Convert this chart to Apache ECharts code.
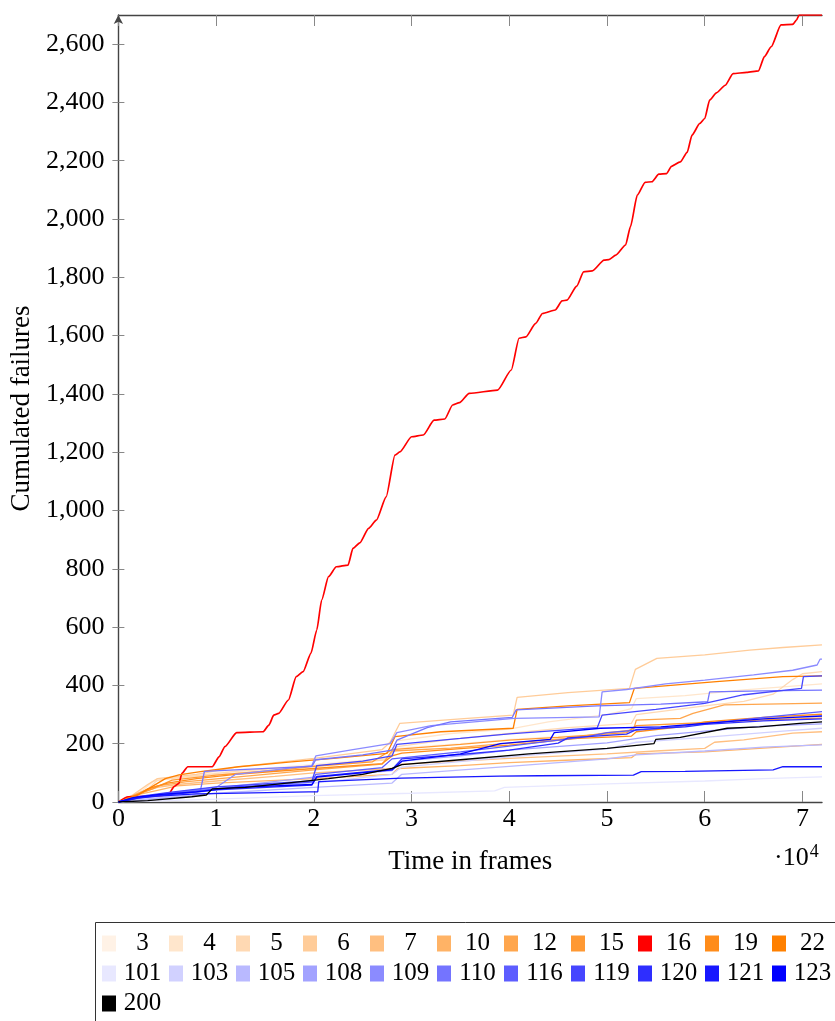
<!DOCTYPE html>
<html>
<head>
<meta charset="utf-8">
<script src="https://cdn.jsdelivr.net/npm/echarts@6/dist/echarts.min.js"></script>
<style>
html, body { margin: 0; padding: 0; background: #ffffff; }
#chart { width: 835px; height: 1021px; }
</style>
</head>
<body>
<div id="chart"></div>
<script>
// Tick values
const xTicks = [0, 10000, 20000, 30000, 40000, 50000, 60000, 70000];
const yTicks = [0, 200, 400, 600, 800, 1000, 1200, 1400, 1600, 1800, 2000, 2200, 2400, 2600];
const xMax = 72000;
const yMax = 2700;

// Cumulated failures per run: [frame, failures]
const fail3 = [[0,0],[1500,25],[3000,55],[4000,80],[8000,95],[15000,115],[20000,130],[27500,150],[28500,185],[35000,200],[40000,215],[45000,225],[52000,235],[53000,260],[60000,275],[66000,285],[72000,292]];
const fail4 = [[0,0],[2500,40],[3500,70],[5000,80],[10000,95],[16000,110],[20000,125],[27500,150],[28500,210],[34000,235],[40000,250],[44000,275],[50000,300],[52500,320],[53000,355],[58000,365],[64000,385],[68000,395],[72000,405]];
const fail5 = [[0,0],[3000,45],[4000,75],[8000,90],[12000,105],[20000,125],[27500,145],[28500,190],[34000,215],[40000,235],[46000,255],[52500,270],[53000,300],[60000,330],[64000,345],[67000,370],[69000,420],[70000,440],[72000,447]];
const fail6 = [[0,0],[1500,25],[3000,60],[4000,80],[8000,95],[12000,120],[20000,150],[27000,180],[27800,205],[28800,270],[35000,285],[40400,298],[40800,359],[46000,375],[52300,390],[52900,455],[55100,493],[60000,505],[64600,521],[68000,530],[72000,539]];
const fail7 = [[0,0],[2500,35],[4000,50],[6000,60],[10000,72],[16000,88],[20000,100],[28000,115],[29000,130],[40000,150],[50000,165],[55000,175],[60000,184],[61000,205],[64000,213],[69000,236],[72000,241]];
const fail10 = [[0,0],[2000,25],[4000,40],[6000,55],[10000,65],[20000,80],[28000,95],[28600,115],[35000,125],[40000,135],[47000,145],[52500,152],[53000,165],[60000,172],[66000,185],[72000,198]];
const fail12 = [[0,0],[2000,30],[4000,55],[7000,70],[12000,85],[20000,110],[27000,130],[28000,175],[34000,185],[39800,201],[45900,218],[49700,236],[52700,247],[53000,281],[57500,287],[58800,304],[62000,333],[72000,339]];
const fail15 = [[0,0],[1500,20],[3500,45],[5500,75],[10000,92],[16000,108],[20000,122],[26000,138],[28000,180],[35000,198],[40000,212],[45000,222],[52000,238],[53000,262],[60000,272],[66000,282],[72000,288]];
const fail16 = [[0,0],[1000,18],[4500,20],[5200,30],[5700,53],[6200,64],[6500,98],[7100,121],[9600,121],[10300,155],[10900,190],[12100,238],[14800,241],[15400,264],[15900,298],[16400,304],[17400,350],[18200,430],[18900,447],[19700,510],[20300,590],[20800,693],[21500,773],[22300,807],[23500,813],[24000,870],[24700,889],[25600,939],[26400,967],[27400,1047],[28300,1190],[28800,1201],[30000,1253],[31200,1259],[32300,1310],[33400,1314],[34200,1362],[34900,1370],[35900,1402],[38800,1413],[40200,1482],[41000,1591],[41700,1596],[42700,1642],[43400,1676],[44700,1688],[45400,1719],[45900,1722],[46900,1770],[47600,1819],[48500,1822],[49700,1859],[50200,1861],[50900,1876],[51900,1911],[52400,1974],[53100,2082],[53900,2126],[54600,2128],[55300,2154],[56100,2156],[56600,2181],[57500,2196],[58200,2229],[58700,2288],[59500,2328],[60000,2345],[60500,2408],[61200,2433],[62100,2459],[62900,2499],[64300,2503],[65500,2508],[66100,2557],[66800,2591],[67800,2666],[69000,2668],[69400,2683],[69650,2700],[72000,2700]];
const fail19 = [[0,0],[1800,20],[3000,45],[5000,65],[8000,80],[12000,95],[20000,115],[27000,132],[28000,158],[29000,168],[35000,183],[40000,195],[47000,218],[52500,226],[53000,241],[57500,258],[60000,275],[66000,290],[72000,301]];
const fail22 = [[0,0],[2000,25],[2800,40],[4800,80],[6200,93],[8400,104],[12300,121],[17700,138],[22000,150],[27500,167],[28300,224],[33000,241],[40400,253],[40800,318],[46000,330],[52300,341],[52800,390],[61200,413],[68000,430],[72000,433]];
const fail101 = [[0,0],[10000,10],[20000,22],[30000,30],[38500,38],[39500,50],[50000,62],[60000,72],[66000,80],[72000,86]];
const fail103 = [[0,0],[3000,12],[8000,30],[10000,45],[20000,65],[28000,95],[29000,120],[40000,155],[50000,182],[53000,205],[60000,222],[68000,243],[72000,253]];
const fail105 = [[0,0],[4000,12],[10000,30],[20000,50],[28000,65],[29000,95],[40000,122],[50000,148],[53000,162],[60000,175],[66000,188],[72000,196]];
const fail108 = [[0,0],[3000,18],[8000,35],[12000,55],[20000,85],[28000,108],[29000,140],[35000,158],[40000,178],[50000,203],[55000,228],[60000,243],[66000,260],[72000,268]];
const fail109 = [[0,0],[2000,15],[5000,30],[10000,50],[12000,95],[19800,125],[20200,158],[24000,180],[27800,200],[28500,238],[32000,262],[40500,287],[49200,292],[49500,378],[52000,386],[56000,405],[60000,418],[65000,436],[69000,452],[71500,470],[71800,490],[72000,490]];
const fail110 = [[0,0],[2000,14],[5000,25],[8400,40],[8800,105],[13000,112],[19800,122],[20200,145],[25000,162],[28000,178],[28500,212],[31600,255],[34000,275],[40300,290],[40700,316],[49000,330],[55500,336],[60300,344],[60500,378],[66000,381],[72000,384]];
const fail116 = [[0,0],[2500,18],[6000,32],[12000,52],[19800,68],[20200,95],[27000,118],[28000,148],[35000,172],[40000,192],[45000,212],[48000,224],[50000,238],[55000,252],[60000,268],[66000,290],[72000,310]];
const fail119 = [[0,0],[2000,18],[5000,32],[10000,52],[19800,72],[20300,125],[25000,140],[28000,158],[28500,198],[35000,218],[40000,234],[49000,255],[49500,298],[55000,318],[60000,338],[64000,368],[69900,390],[70100,430],[72000,433]];
const fail120 = [[0,0],[2000,16],[6000,28],[10000,42],[19800,58],[20300,88],[28000,112],[29000,148],[35000,163],[40000,178],[45000,202],[46000,220],[52000,233],[53000,248],[58000,258],[60000,266],[66000,278],[72000,285]];
const fail121 = [[0,0],[2000,13],[4000,20],[8000,28],[19500,35],[20400,35],[20500,70],[29000,82],[39000,89],[43000,90],[52700,92],[53500,104],[58000,105],[67000,110],[68000,121],[72000,121]];
const fail123 = [[0,0],[1500,15],[4000,25],[8000,35],[12000,50],[19800,60],[20300,85],[28000,110],[29000,140],[35000,165],[39100,200],[44200,215],[44600,238],[49300,253],[55500,258],[60000,270],[66000,285],[69000,290],[72000,295]];
const fail200 = [[0,0],[3000,5],[7500,18],[9000,24],[9600,45],[13000,50],[17000,64],[21500,80],[25000,95],[28000,115],[29000,128],[35000,145],[42000,165],[50000,184],[54800,200],[55000,215],[57500,222],[62300,253],[65600,258],[69700,270],[72000,275]];

// Run names, in drawing order, with their line colours
const runNames = ['3','4','5','6','7','10','12','15','16','19','22','101','103','105','108','109','110','116','119','120','121','123','200'];
const runData = [fail3, fail4, fail5, fail6, fail7, fail10, fail12, fail15, fail16, fail19, fail22, fail101, fail103, fail105, fail108, fail109, fail110, fail116, fail119, fail120, fail121, fail123, fail200];
const runColors = ['#fff2e6','#ffe6cc','#ffd9b3','#ffcc99','#ffbf80','#ffb366','#ffa64d','#ff9933','#ff0000','#ff8c1a','#ff8000',
  '#e8e8ff','#d1d1ff','#b9b9ff','#a2a2ff','#8b8bff','#7474ff','#5d5dff','#4646ff','#2e2eff','#1717ff','#0000ff','#000000'];

const FONT = "'Liberation Serif', 'DejaVu Serif', serif";
const AXIS = '#444444';

const series = runNames.map((name, i) => ({
  name: name,
  type: 'line',
  data: runData[i],
  color: runColors[i],
  showSymbol: false,
  symbol: 'none',
  clip: true,
  smooth: name === '16' ? 0.2 : false,
  smoothMonotone: 'x',
  lineStyle: { width: name === '16' ? 1.7 : 1.3, color: runColors[i] },
  itemStyle: { color: runColors[i] },
  emphasis: { disabled: true }
}));

const withCommas = v => String(v).replace(/\B(?=(\d{3})+(?!\d))/g, ',');

const chart = echarts.init(document.getElementById('chart'), null, { renderer: 'canvas' });
chart.setOption({
  animation: false,
  backgroundColor: '#ffffff',
  grid: { left: 116, right: 13, top: 15, bottom: 219 },
  xAxis: [{
    type: 'value', min: 0, max: xMax, position: 'bottom',
    name: 'Time in frames', nameLocation: 'middle', nameGap: 46,
    nameTextStyle: { fontFamily: FONT, fontSize: 27, color: '#000' },
    axisLine: { show: true, onZero: false, lineStyle: { color: AXIS, width: 1.4 } },
    axisTick: { show: true, inside: true, length: 11, customValues: xTicks, lineStyle: { color: '#888', width: 1 } },
    axisLabel: { show: true, customValues: xTicks, margin: 4, fontFamily: FONT, fontSize: 26, color: '#000',
      formatter: v => String(v / 10000) },
    splitLine: { show: false }
  }, {
    type: 'value', min: 0, max: xMax, position: 'top',
    axisLine: { show: true, onZero: false, lineStyle: { color: AXIS, width: 1.4 } },
    axisTick: { show: true, inside: true, length: 11, customValues: xTicks, lineStyle: { color: '#888', width: 1 } },
    axisLabel: { show: false },
    splitLine: { show: false }
  }],
  yAxis: [{
    type: 'value', min: 0, max: yMax, position: 'left',
    name: 'Cumulated failures', nameLocation: 'middle', nameGap: 82, nameRotate: 90,
    nameTextStyle: { fontFamily: FONT, fontSize: 27, color: '#000' },
    axisLine: { show: true, onZero: false, symbol: ['none', 'arrow'], symbolSize: [7, 9], lineStyle: { color: AXIS, width: 1.4 } },
    axisTick: { show: true, inside: false, length: 6, customValues: yTicks, lineStyle: { color: '#888', width: 1 } },
    axisLabel: { show: true, customValues: yTicks, margin: 14, fontFamily: FONT, fontSize: 26, color: '#000',
      formatter: v => withCommas(v) },
    splitLine: { show: false }
  }, {
    type: 'value', min: 0, max: yMax, position: 'left',
    axisLine: { show: false, onZero: false },
    axisTick: { show: true, inside: true, length: 6, customValues: yTicks, lineStyle: { color: '#888', width: 1 } },
    axisLabel: { show: false },
    splitLine: { show: false }
  }],
  legend: {
    data: runNames,
    left: 102, top: 931, width: 740,
    orient: 'horizontal',
    padding: 0,
    itemGap: 5,
    itemWidth: 14, itemHeight: 16,
    icon: 'rect',
    selectedMode: false,
    formatter: name => '{t|' + name + '}',
    textStyle: {
      fontFamily: FONT, fontSize: 25, color: '#000',
      rich: { t: { width: 43, align: 'center', lineHeight: 25, fontFamily: FONT, fontSize: 25, color: '#000' } }
    }
  },
  graphic: [
    { type: 'rect', silent: true, z: -1,
      shape: { x: 95.5, y: 922.5, width: 800, height: 200 },
      style: { fill: 'none', stroke: '#333', lineWidth: 1 } },
    { type: 'text', silent: true, left: 774, top: 843,
      style: { text: '·10{s|4}', fontFamily: FONT, fontSize: 26, fill: '#000',
        rich: { s: { fontFamily: FONT, fontSize: 18, verticalAlign: 'top', padding: [0, 0, 12, 1] } } } }
  ],
  series: series
});
</script>
</body>
</html>
